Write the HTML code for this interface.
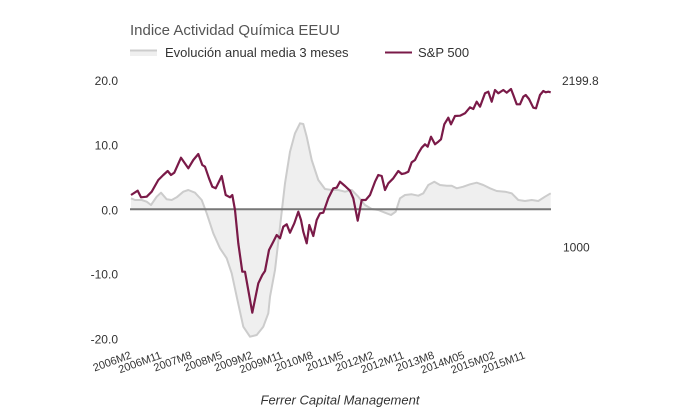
<!DOCTYPE html>
<html><head><meta charset="utf-8"><style>
html,body{margin:0;padding:0;background:#fff;}
svg{display:block;}
text{font-family:"Liberation Sans",Arial,sans-serif;}
</style></head><body>
<svg width="680" height="420" viewBox="0 0 680 420" xmlns="http://www.w3.org/2000/svg">
<rect width="680" height="420" fill="#fff"/>
<text x="130" y="35" font-size="15" fill="#555">Indice Actividad Química EEUU</text>
<rect x="130" y="50" width="27" height="6" fill="#efefef"/>
<line x1="130" y1="50.5" x2="157" y2="50.5" stroke="#ccc" stroke-width="2"/>
<text x="165" y="57" font-size="13" fill="#333">Evolución anual media 3 meses</text>
<line x1="385" y1="52.5" x2="412" y2="52.5" stroke="#7a1a48" stroke-width="2"/>
<text x="418" y="57" font-size="13" fill="#333">S&amp;P 500</text>

<g font-size="12" fill="#333" text-anchor="end">
<text x="118" y="85">20.0</text>
<text x="118" y="149.3">10.0</text>
<text x="118" y="214.3">0.0</text>
<text x="118" y="278.3">-10.0</text>
<text x="118" y="343.3">-20.0</text>
</g>
<g font-size="12" fill="#333">
<text x="562" y="85">2199.8</text>
<text x="563" y="251.6">1000</text>
</g>

<path d="M131,209.3 L131,198.3 L135,200 L141.7,200 L146.7,201.7 L151,205 L156.7,196.7 L161,192.7 L166.7,199.3 L171.7,200 L176.7,197.3 L183.3,191.7 L188.3,190 L195,192.7 L201.7,200 L206.7,213.3 L213.3,233.3 L220,248.3 L226.7,258.3 L231.7,273.3 L236.7,296.7 L243.3,326.7 L250,336.7 L256.7,335 L263.3,326.7 L268.3,313.3 L270,296.7 L275,270 L280,226.7 L285,183.3 L290,151.7 L295,133.3 L300,123.3 L303.3,124 L306.7,136.7 L311.7,160 L318.3,180 L325,189 L331.7,190 L338.3,190 L345,191.7 L351.7,190 L358.3,196.7 L365,205 L371.7,209 L378.3,210 L385,212.7 L391,215 L395.7,211.7 L400,198.3 L405,195 L411.7,194.3 L418.3,195.7 L423.3,193.3 L428.3,185 L434.3,181.7 L440,185 L446.7,185.7 L451.7,185.7 L456.7,188.3 L463.3,186.7 L470,184.3 L476.7,182.7 L483.3,185 L490,188.3 L496.7,191 L505,191.7 L511.7,193.3 L518.3,200 L525,201 L531.7,200 L538.3,201 L545,196.7 L550.7,193.3 L550.7,209.3 Z" fill="#efefef"/>
<polyline fill="none" stroke="#ccc" stroke-width="2" stroke-linejoin="round" points="131,198.3 135,200 141.7,200 146.7,201.7 151,205 156.7,196.7 161,192.7 166.7,199.3 171.7,200 176.7,197.3 183.3,191.7 188.3,190 195,192.7 201.7,200 206.7,213.3 213.3,233.3 220,248.3 226.7,258.3 231.7,273.3 236.7,296.7 243.3,326.7 250,336.7 256.7,335 263.3,326.7 268.3,313.3 270,296.7 275,270 280,226.7 285,183.3 290,151.7 295,133.3 300,123.3 303.3,124 306.7,136.7 311.7,160 318.3,180 325,189 331.7,190 338.3,190 345,191.7 351.7,190 358.3,196.7 365,205 371.7,209 378.3,210 385,212.7 391,215 395.7,211.7 400,198.3 405,195 411.7,194.3 418.3,195.7 423.3,193.3 428.3,185 434.3,181.7 440,185 446.7,185.7 451.7,185.7 456.7,188.3 463.3,186.7 470,184.3 476.7,182.7 483.3,185 490,188.3 496.7,191 505,191.7 511.7,193.3 518.3,200 525,201 531.7,200 538.3,201 545,196.7 550.7,193.3"/>

<line x1="130" y1="209.3" x2="551" y2="209.3" stroke="#777" stroke-width="2"/>

<polyline fill="none" stroke="#7a1a48" stroke-width="2.2" stroke-linejoin="round" points="131,195 137.7,190.7 141,197.3 146.7,196.7 151.7,191.7 158.3,180 163.3,175 167.7,171 171,175 174.3,172.7 181,157.7 188.3,168.3 193.3,160 198.3,154 202.3,165 205,166.7 209,178.3 212.3,186.7 215.7,188.3 221.7,176 225.7,195 230,197.3 232.3,195 235,210 238.3,243.3 242.3,271.7 245,271.7 252.3,312.7 258.3,283.3 262.3,275 265,271 269,250 273.3,241.7 276.7,235 280,238.3 283.3,226.7 286.7,224.3 290,232.7 294.3,223.3 298.3,211.7 301,220 303.3,231.7 306.7,243.3 309.3,225 313.3,236 316.7,220 320,213.3 323.3,212.7 328.3,198.3 333.3,188.3 336.7,187.7 340,181.7 345,186 350,190.7 353.3,198.3 357.7,220.7 361.7,200 365.7,200 370,195 375,181.7 378.3,175 381.7,176 385,190 388.3,183.3 393.3,178.3 398.3,171 401.7,174 405,173.3 408.3,171.7 411.7,162.3 415,160 418.3,153.3 421.7,147.7 425,144.3 427.7,146.7 431,136.7 435,144.3 438.3,141.7 441,139.3 444.3,124.3 448.3,117.7 451,124.3 455,116 460,115.7 465,113.3 470,107.3 473.3,109 476.7,101.7 480,106.7 485,93.3 488.3,91.7 491.7,101.7 495,90 498.3,93.3 503.3,90 506.7,92.7 511,89 513.3,95 516.7,104.3 520,104.3 523.3,96.7 525.7,95 529,99 533.3,107.7 536,108.3 540,95 543.3,91 545.7,92.3 548.3,91.7 550.7,92.3"/>

<g font-size="11" fill="#333" text-anchor="end">
<text transform="translate(132,358) rotate(-20)">2006M2</text>
<text transform="translate(162.3,358) rotate(-20)">2006M11</text>
<text transform="translate(192.6,358) rotate(-20)">2007M8</text>
<text transform="translate(222.9,358) rotate(-20)">2008M5</text>
<text transform="translate(253.2,358) rotate(-20)">2009M2</text>
<text transform="translate(283.5,358) rotate(-20)">2009M11</text>
<text transform="translate(313.8,358) rotate(-20)">2010M8</text>
<text transform="translate(344.1,358) rotate(-20)">2011M5</text>
<text transform="translate(374.4,358) rotate(-20)">2012M2</text>
<text transform="translate(404.7,358) rotate(-20)">2012M11</text>
<text transform="translate(435,358) rotate(-20)">2013M8</text>
<text transform="translate(465.3,358) rotate(-20)">2014M05</text>
<text transform="translate(495.6,358) rotate(-20)">2015M02</text>
<text transform="translate(525.9,358) rotate(-20)">2015M11</text>
</g>

<text x="260.5" y="404.5" font-size="13" font-style="italic" fill="#333">Ferrer Capital Management</text>
</svg>
</body></html>
